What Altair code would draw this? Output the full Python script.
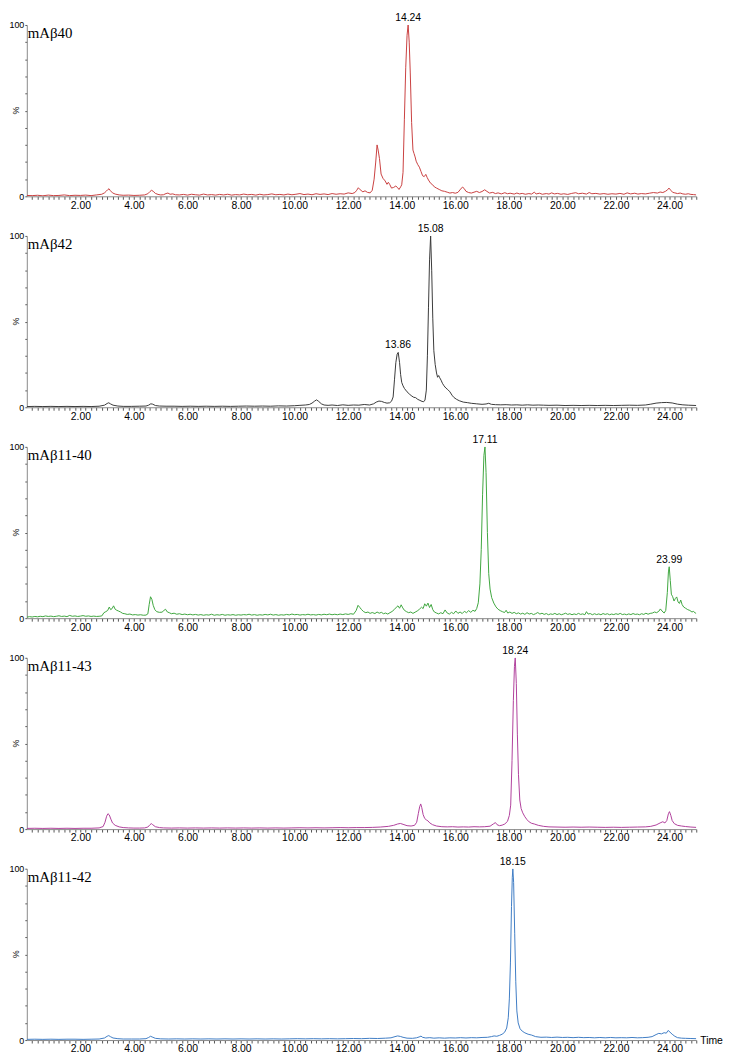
import altair as alt
import pandas as pd

# ---------------- data (time [min], relative intensity [%]) ----------------
names = ["mAβ40", "mAβ42", "mAβ11-40", "mAβ11-43", "mAβ11-42"]
colors = ["#c94040", "#3a3a3a", "#3fa63f", "#b0409c", "#3f7cc4"]

trace_40 = [
    (0.0, 0.5), (0.2, 0.4), (0.4, 0.6), (0.6, 0.3), (0.8, 0.7), (1.0, 0.4), (1.2, 0.5), (1.4, 0.8),
    (1.6, 0.4), (1.8, 0.6), (2.0, 0.5), (2.2, 0.7), (2.4, 0.4), (2.6, 0.8), (2.8, 1.2), (2.9, 2.0),
    (2.97, 3.0), (3.03, 4.0), (3.07, 4.4), (3.12, 3.3), (3.2, 2.0), (3.3, 1.3), (3.45, 0.8), (3.6, 0.6),
    (3.8, 0.7), (4.0, 0.5), (4.2, 0.6), (4.4, 0.8), (4.52, 1.5), (4.6, 2.8), (4.66, 3.5), (4.72, 2.9),
    (4.8, 1.7), (4.9, 1.1), (5.0, 0.8), (5.1, 0.9), (5.2, 1.6), (5.27, 1.9), (5.35, 1.2), (5.45, 1.4),
    (5.55, 0.9), (5.7, 0.8), (5.85, 1.1), (6.0, 0.7), (6.15, 1.2), (6.3, 0.9), (6.45, 0.7), (6.6, 1.3),
    (6.75, 0.8), (6.9, 1.0), (7.05, 0.7), (7.2, 1.1), (7.35, 0.8), (7.5, 1.2), (7.65, 0.7), (7.8, 1.0),
    (7.95, 0.8), (8.1, 1.3), (8.25, 0.9), (8.4, 1.1), (8.55, 0.7), (8.7, 1.2), (8.85, 0.8), (9.0, 1.0),
    (9.15, 1.4), (9.3, 0.9), (9.45, 1.1), (9.6, 0.8), (9.75, 1.3), (9.9, 0.9), (10.05, 1.2), (10.2, 1.6),
    (10.35, 1.0), (10.5, 1.3), (10.65, 0.9), (10.8, 1.5), (10.95, 1.1), (11.1, 1.4), (11.25, 1.0),
    (11.4, 1.6), (11.55, 1.2), (11.7, 1.5), (11.85, 1.3), (12.0, 2.0), (12.15, 1.6), (12.25, 2.2),
    (12.32, 3.5), (12.38, 5.0), (12.45, 3.8), (12.55, 2.6), (12.63, 3.2), (12.72, 2.3), (12.82, 2.0),
    (12.9, 3.5), (12.97, 10.0), (13.03, 20.0), (13.08, 30.0), (13.12, 27.0), (13.17, 22.0), (13.23, 13.0),
    (13.3, 10.5), (13.38, 9.0), (13.45, 7.0), (13.5, 8.2), (13.55, 7.0), (13.62, 4.8), (13.7, 5.2),
    (13.78, 6.0), (13.85, 5.0), (13.9, 4.0), (13.96, 5.5), (14.0, 6.7), (14.05, 14.0), (14.1, 45.0),
    (14.15, 75.0), (14.2, 94.0), (14.24, 100.0), (14.28, 90.0), (14.32, 72.0), (14.37, 43.0), (14.42, 27.0),
    (14.46, 25.0), (14.5, 23.0), (14.54, 20.5), (14.6, 18.5), (14.66, 17.0), (14.72, 14.5), (14.78, 12.0),
    (14.84, 11.5), (14.9, 12.8), (14.95, 11.0), (15.0, 9.5), (15.08, 7.6), (15.15, 6.8), (15.22, 5.5),
    (15.3, 4.8), (15.4, 4.0), (15.5, 3.2), (15.6, 2.9), (15.7, 2.4), (15.8, 1.9), (15.9, 2.2), (16.0, 1.8),
    (16.1, 2.3), (16.2, 4.2), (16.27, 5.4), (16.33, 4.6), (16.4, 2.9), (16.5, 2.2), (16.6, 1.9), (16.7, 2.4),
    (16.8, 2.9), (16.9, 2.2), (17.0, 2.8), (17.1, 3.8), (17.18, 2.9), (17.28, 1.9), (17.4, 2.3), (17.5, 1.6),
    (17.6, 2.0), (17.72, 1.4), (17.85, 2.1), (17.95, 1.5), (18.05, 1.8), (18.2, 1.3), (18.3, 1.9),
    (18.4, 1.4), (18.5, 1.7), (18.62, 1.2), (18.75, 1.6), (18.85, 1.3), (18.95, 2.4), (19.02, 1.4),
    (19.15, 1.8), (19.25, 1.2), (19.4, 1.6), (19.5, 1.3), (19.6, 2.0), (19.7, 1.4), (19.82, 1.7),
    (19.95, 1.2), (20.05, 1.5), (20.2, 1.1), (20.35, 1.7), (20.5, 2.1), (20.6, 1.5), (20.75, 1.8),
    (20.9, 1.3), (21.0, 2.2), (21.1, 1.5), (21.25, 1.7), (21.4, 1.3), (21.55, 1.6), (21.7, 1.2),
    (21.85, 1.5), (22.0, 1.3), (22.15, 1.7), (22.3, 1.2), (22.42, 2.0), (22.55, 1.4), (22.7, 1.8),
    (22.82, 1.3), (22.95, 1.6), (23.1, 1.4), (23.25, 1.8), (23.4, 2.2), (23.55, 1.9), (23.65, 2.5),
    (23.75, 2.2), (23.85, 2.9), (23.93, 3.8), (23.98, 4.8), (24.05, 3.5), (24.12, 2.3), (24.2, 2.0),
    (24.3, 1.6), (24.4, 1.9), (24.5, 1.4), (24.6, 1.2), (24.7, 1.5), (24.8, 1.1), (24.9, 1.0), (25.0, 0.8),
]

trace_42 = [
    (0.0, 0.4), (0.3, 0.5), (0.6, 0.4), (0.9, 0.5), (1.2, 0.4), (1.5, 0.5), (1.8, 0.4), (2.1, 0.5),
    (2.4, 0.4), (2.7, 0.6), (2.9, 1.2), (3.0, 2.2), (3.06, 2.6), (3.12, 2.0), (3.22, 1.2), (3.4, 0.7),
    (3.6, 0.5), (3.9, 0.5), (4.2, 0.6), (4.45, 0.7), (4.55, 1.2), (4.63, 2.0), (4.7, 1.8), (4.8, 1.0),
    (4.95, 0.7), (5.2, 0.6), (5.5, 0.6), (5.8, 0.5), (6.1, 0.6), (6.4, 0.5), (6.7, 0.6), (7.0, 0.5),
    (7.3, 0.6), (7.6, 0.5), (7.9, 0.6), (8.2, 0.7), (8.5, 0.6), (8.8, 0.7), (9.1, 0.6), (9.4, 0.8),
    (9.7, 0.7), (10.0, 0.9), (10.2, 1.1), (10.4, 1.3), (10.55, 1.6), (10.65, 2.4), (10.75, 3.6),
    (10.82, 4.3), (10.9, 3.4), (11.0, 2.0), (11.1, 1.3), (11.25, 1.1), (11.4, 1.3), (11.6, 1.0),
    (11.8, 1.4), (12.0, 1.1), (12.2, 1.3), (12.4, 1.2), (12.6, 1.6), (12.8, 1.3), (12.95, 2.0),
    (13.05, 3.0), (13.15, 3.6), (13.25, 3.4), (13.35, 2.8), (13.45, 2.4), (13.55, 2.6), (13.62, 3.5),
    (13.68, 6.0), (13.73, 16.0), (13.78, 26.0), (13.83, 31.0), (13.87, 32.0), (13.92, 26.0), (13.96, 19.0),
    (14.0, 14.5), (14.05, 12.5), (14.1, 11.0), (14.2, 9.0), (14.3, 7.5), (14.38, 6.5), (14.45, 5.8),
    (14.52, 5.6), (14.6, 4.6), (14.68, 4.0), (14.76, 3.4), (14.82, 3.2), (14.87, 4.2), (14.92, 10.0),
    (14.96, 30.0), (15.0, 58.0), (15.04, 86.0), (15.08, 100.0), (15.12, 80.0), (15.16, 52.0), (15.2, 33.0),
    (15.25, 25.0), (15.3, 20.0), (15.34, 17.5), (15.38, 18.5), (15.42, 17.2), (15.47, 15.8), (15.52, 14.0),
    (15.58, 12.5), (15.65, 11.2), (15.72, 10.3), (15.8, 9.0), (15.88, 7.0), (15.95, 5.7), (16.05, 4.6),
    (16.15, 3.8), (16.3, 3.0), (16.45, 2.7), (16.6, 2.3), (16.8, 2.0), (17.0, 1.7), (17.15, 1.9),
    (17.25, 2.3), (17.35, 1.7), (17.5, 1.5), (17.7, 1.4), (17.9, 1.5), (18.1, 1.3), (18.3, 1.4),
    (18.5, 1.2), (18.7, 1.4), (18.9, 1.2), (19.1, 1.3), (19.3, 1.2), (19.5, 1.1), (19.8, 1.2), (20.1, 1.0),
    (20.4, 1.1), (20.7, 1.0), (21.0, 1.1), (21.3, 1.0), (21.6, 1.1), (21.9, 1.0), (22.2, 1.1), (22.5, 1.2),
    (22.8, 1.1), (23.1, 1.3), (23.3, 1.8), (23.5, 2.4), (23.7, 2.7), (23.9, 2.8), (24.1, 2.5), (24.3, 1.8),
    (24.5, 1.4), (24.7, 1.2), (25.0, 1.0),
]

trace_11_40 = [
    (0.0, 0.6), (0.1, 0.9), (0.2, 0.7), (0.3, 1.0), (0.4, 0.8), (0.5, 1.1), (0.6, 0.9), (0.7, 1.3),
    (0.8, 1.0), (0.9, 1.2), (1.0, 0.9), (1.1, 1.1), (1.2, 1.4), (1.3, 1.0), (1.4, 1.2), (1.5, 0.9),
    (1.6, 1.6), (1.7, 1.1), (1.8, 1.3), (1.9, 1.0), (2.0, 1.2), (2.1, 1.5), (2.2, 1.1), (2.3, 1.3),
    (2.4, 1.0), (2.5, 1.2), (2.6, 1.0), (2.7, 1.1), (2.8, 1.3), (2.88, 3.2), (2.95, 3.8), (3.02, 4.5),
    (3.08, 6.5), (3.13, 5.0), (3.18, 5.5), (3.24, 7.2), (3.3, 5.2), (3.36, 4.6), (3.42, 4.2), (3.5, 3.6),
    (3.58, 2.8), (3.66, 2.6), (3.75, 2.2), (3.85, 2.4), (3.95, 1.9), (4.05, 2.1), (4.15, 1.8), (4.25, 2.0),
    (4.35, 1.7), (4.45, 1.8), (4.52, 2.5), (4.57, 8.0), (4.62, 12.5), (4.67, 11.0), (4.72, 7.5), (4.78, 5.0),
    (4.85, 3.8), (4.95, 3.4), (5.05, 3.5), (5.12, 4.5), (5.18, 5.2), (5.25, 3.6), (5.32, 3.2), (5.4, 2.6),
    (5.5, 2.9), (5.6, 2.3), (5.7, 2.6), (5.8, 2.1), (5.9, 2.4), (6.0, 2.0), (6.1, 2.3), (6.2, 1.9),
    (6.3, 2.2), (6.4, 1.8), (6.5, 2.1), (6.6, 1.7), (6.7, 2.0), (6.8, 1.8), (6.9, 2.3), (7.0, 1.7),
    (7.1, 2.0), (7.2, 1.8), (7.3, 2.2), (7.4, 1.7), (7.5, 2.0), (7.6, 1.8), (7.7, 2.1), (7.8, 1.7),
    (7.9, 2.0), (8.0, 1.8), (8.1, 2.1), (8.2, 1.9), (8.3, 2.3), (8.4, 1.8), (8.5, 2.1), (8.6, 1.7),
    (8.7, 2.0), (8.8, 1.8), (8.9, 2.2), (9.0, 1.9), (9.1, 2.3), (9.2, 1.8), (9.3, 2.1), (9.4, 1.7),
    (9.5, 2.0), (9.6, 1.8), (9.7, 2.2), (9.8, 1.9), (9.9, 2.4), (10.0, 2.0), (10.1, 2.2), (10.2, 1.8),
    (10.3, 2.1), (10.4, 1.9), (10.5, 2.3), (10.6, 1.9), (10.7, 2.1), (10.8, 1.8), (10.9, 2.2), (11.0, 1.9),
    (11.1, 2.3), (11.2, 2.0), (11.3, 2.4), (11.4, 2.0), (11.5, 2.3), (11.6, 2.0), (11.7, 2.4), (11.8, 2.1),
    (11.9, 2.5), (12.0, 2.2), (12.1, 2.6), (12.2, 2.3), (12.3, 4.5), (12.37, 7.5), (12.44, 6.2), (12.5, 5.0),
    (12.58, 3.8), (12.66, 3.2), (12.74, 3.6), (12.82, 2.8), (12.9, 3.3), (13.0, 2.7), (13.08, 3.6),
    (13.16, 2.9), (13.24, 3.4), (13.32, 2.6), (13.4, 3.0), (13.48, 2.4), (13.56, 3.2), (13.64, 3.9),
    (13.72, 5.0), (13.8, 6.4), (13.86, 7.2), (13.92, 5.8), (13.98, 7.8), (14.04, 6.0), (14.1, 4.6),
    (14.18, 3.8), (14.26, 3.2), (14.34, 3.6), (14.42, 2.8), (14.5, 3.5), (14.58, 4.2), (14.66, 5.2),
    (14.74, 6.4), (14.8, 5.6), (14.86, 8.4), (14.92, 7.0), (14.98, 8.8), (15.04, 6.2), (15.1, 8.0),
    (15.16, 5.0), (15.22, 3.6), (15.3, 3.0), (15.38, 2.5), (15.46, 3.2), (15.54, 2.6), (15.62, 4.8),
    (15.7, 3.0), (15.78, 2.4), (15.86, 3.4), (15.94, 2.6), (16.02, 4.2), (16.1, 2.8), (16.18, 3.6),
    (16.26, 2.7), (16.34, 4.0), (16.42, 3.2), (16.5, 4.4), (16.58, 3.4), (16.66, 4.6), (16.74, 4.0),
    (16.8, 5.6), (16.86, 9.0), (16.92, 20.0), (16.97, 40.0), (17.02, 72.0), (17.07, 95.0), (17.11, 100.0),
    (17.15, 85.0), (17.2, 50.0), (17.25, 26.0), (17.3, 17.0), (17.36, 12.0), (17.44, 8.8), (17.52, 6.6),
    (17.6, 5.2), (17.68, 4.4), (17.76, 3.8), (17.84, 3.3), (17.9, 4.6), (17.96, 3.0), (18.04, 3.6),
    (18.12, 2.8), (18.2, 3.4), (18.28, 2.6), (18.36, 3.1), (18.44, 2.4), (18.52, 2.9), (18.6, 2.2),
    (18.68, 3.2), (18.76, 2.4), (18.84, 2.8), (18.92, 2.1), (19.0, 2.6), (19.08, 3.3), (19.16, 2.4),
    (19.24, 2.9), (19.32, 2.2), (19.4, 2.7), (19.48, 2.0), (19.56, 2.5), (19.64, 2.2), (19.72, 2.8),
    (19.8, 2.1), (19.88, 2.6), (19.96, 2.0), (20.04, 2.4), (20.12, 2.9), (20.2, 2.2), (20.28, 2.6),
    (20.36, 2.0), (20.44, 2.5), (20.52, 2.1), (20.6, 2.8), (20.68, 2.2), (20.76, 2.5), (20.84, 2.0),
    (20.9, 3.8), (20.96, 2.4), (21.04, 2.7), (21.12, 2.0), (21.2, 2.6), (21.28, 2.1), (21.36, 2.5),
    (21.44, 2.0), (21.52, 2.7), (21.6, 2.2), (21.68, 2.6), (21.76, 2.0), (21.84, 2.4), (21.92, 2.1),
    (22.0, 2.6), (22.08, 2.2), (22.16, 2.8), (22.24, 2.1), (22.32, 2.4), (22.4, 2.0), (22.48, 2.5),
    (22.56, 2.1), (22.64, 2.7), (22.72, 2.2), (22.8, 2.4), (22.88, 2.0), (22.96, 2.6), (23.04, 2.2),
    (23.12, 2.9), (23.2, 2.3), (23.28, 2.8), (23.36, 3.0), (23.44, 3.6), (23.52, 3.2), (23.6, 4.0),
    (23.66, 5.4), (23.72, 4.2), (23.8, 3.0), (23.86, 4.5), (23.92, 15.0), (23.96, 27.0), (23.99, 30.0),
    (24.03, 22.0), (24.07, 14.0), (24.12, 12.5), (24.17, 10.0), (24.22, 11.5), (24.27, 12.4), (24.32, 9.5),
    (24.37, 8.6), (24.42, 10.6), (24.47, 8.0), (24.53, 6.5), (24.6, 5.8), (24.68, 5.0), (24.76, 4.5),
    (24.84, 3.6), (24.9, 4.0), (24.96, 3.0), (25.0, 2.8),
]

trace_11_43 = [
    (0.0, 0.4), (0.3, 0.5), (0.6, 0.4), (0.9, 0.5), (1.2, 0.4), (1.5, 0.5), (1.8, 0.4), (2.1, 0.5),
    (2.4, 0.5), (2.7, 0.7), (2.85, 1.5), (2.92, 4.0), (2.98, 7.5), (3.03, 9.0), (3.08, 8.3), (3.14, 5.8),
    (3.2, 3.6), (3.3, 2.2), (3.45, 1.3), (3.6, 0.9), (3.8, 0.7), (4.0, 0.6), (4.2, 0.6), (4.4, 0.7),
    (4.52, 1.2), (4.6, 2.6), (4.65, 3.2), (4.7, 2.6), (4.8, 1.4), (4.95, 0.9), (5.1, 0.7), (5.4, 0.6),
    (5.7, 0.7), (6.0, 0.6), (6.3, 0.7), (6.6, 0.6), (6.9, 0.7), (7.2, 0.6), (7.5, 0.7), (7.8, 0.6),
    (8.1, 0.7), (8.4, 0.6), (8.7, 0.7), (9.0, 0.6), (9.3, 0.7), (9.6, 0.6), (9.9, 0.7), (10.2, 0.8),
    (10.5, 0.7), (10.8, 0.8), (11.1, 0.7), (11.4, 0.8), (11.7, 0.9), (12.0, 0.8), (12.3, 0.9), (12.6, 0.9),
    (12.9, 1.0), (13.2, 1.2), (13.5, 1.6), (13.7, 2.2), (13.85, 3.0), (13.95, 3.3), (14.05, 2.8),
    (14.2, 2.0), (14.35, 1.8), (14.48, 2.2), (14.56, 4.0), (14.62, 9.0), (14.67, 13.0), (14.71, 14.7),
    (14.75, 12.5), (14.8, 8.5), (14.86, 6.2), (14.92, 5.4), (14.98, 4.8), (15.05, 3.6), (15.15, 2.6),
    (15.3, 1.8), (15.5, 1.4), (15.7, 1.3), (15.9, 1.4), (16.1, 1.2), (16.3, 1.3), (16.5, 1.2), (16.7, 1.4),
    (16.9, 1.3), (17.1, 1.4), (17.3, 1.7), (17.42, 3.0), (17.5, 3.8), (17.56, 2.6), (17.65, 2.0),
    (17.75, 2.3), (17.85, 3.0), (17.95, 4.5), (18.02, 8.0), (18.07, 14.0), (18.12, 40.0), (18.17, 75.0),
    (18.21, 95.0), (18.24, 100.0), (18.28, 85.0), (18.32, 55.0), (18.36, 32.0), (18.41, 17.0), (18.46, 12.0),
    (18.52, 9.5), (18.6, 7.2), (18.68, 5.5), (18.76, 4.2), (18.85, 3.4), (18.95, 3.0), (19.1, 2.2),
    (19.3, 1.6), (19.5, 1.3), (19.8, 1.2), (20.1, 1.1), (20.4, 1.2), (20.7, 1.1), (21.0, 1.2), (21.3, 1.1),
    (21.6, 1.0), (21.9, 1.1), (22.2, 1.0), (22.5, 1.1), (22.8, 1.2), (23.1, 1.3), (23.3, 1.6), (23.5, 2.4),
    (23.65, 3.6), (23.75, 4.3), (23.83, 3.6), (23.9, 5.0), (23.96, 9.0), (24.0, 10.2), (24.05, 8.0),
    (24.1, 5.0), (24.18, 3.2), (24.3, 2.2), (24.45, 1.8), (24.6, 1.5), (24.8, 1.2), (25.0, 1.0),
]

trace_11_42 = [
    (0.0, 0.4), (0.3, 0.5), (0.6, 0.4), (0.9, 0.5), (1.2, 0.4), (1.5, 0.5), (1.8, 0.5), (2.1, 0.4),
    (2.4, 0.5), (2.7, 0.6), (2.9, 1.2), (3.0, 2.2), (3.06, 2.6), (3.12, 2.0), (3.22, 1.2), (3.4, 0.8),
    (3.6, 0.6), (3.9, 0.6), (4.2, 0.6), (4.45, 0.8), (4.55, 1.5), (4.62, 2.2), (4.68, 1.8), (4.8, 1.0),
    (5.0, 0.7), (5.3, 0.6), (5.6, 0.7), (5.9, 0.6), (6.2, 0.7), (6.5, 0.6), (6.8, 0.7), (7.1, 0.6),
    (7.4, 0.7), (7.7, 0.6), (8.0, 0.7), (8.3, 0.6), (8.6, 0.7), (8.9, 0.6), (9.2, 0.7), (9.5, 0.6),
    (9.8, 0.7), (10.1, 0.8), (10.4, 0.7), (10.7, 0.8), (11.0, 0.7), (11.3, 0.8), (11.6, 0.7), (11.9, 0.8),
    (12.2, 0.9), (12.5, 0.8), (12.8, 1.0), (13.1, 0.9), (13.4, 1.1), (13.6, 1.3), (13.75, 2.0), (13.85, 2.4),
    (13.95, 2.1), (14.05, 1.6), (14.2, 1.1), (14.4, 1.0), (14.55, 1.3), (14.65, 1.8), (14.72, 2.3),
    (14.78, 1.6), (14.9, 1.2), (15.05, 1.4), (15.2, 1.1), (15.4, 1.3), (15.6, 1.1), (15.8, 1.3), (16.0, 1.2),
    (16.2, 1.4), (16.4, 1.2), (16.6, 1.4), (16.8, 1.3), (17.0, 1.5), (17.2, 1.6), (17.35, 2.0), (17.45, 2.4),
    (17.55, 2.2), (17.65, 2.7), (17.75, 3.4), (17.84, 4.5), (17.92, 7.0), (17.98, 13.0), (18.02, 24.0),
    (18.06, 45.0), (18.1, 78.0), (18.13, 95.0), (18.15, 100.0), (18.18, 92.0), (18.22, 62.0), (18.26, 34.0),
    (18.3, 17.0), (18.35, 10.0), (18.42, 6.6), (18.5, 5.2), (18.6, 4.2), (18.72, 3.4), (18.85, 2.9),
    (19.0, 2.0), (19.2, 1.6), (19.4, 1.7), (19.6, 1.5), (19.8, 1.7), (20.0, 1.5), (20.2, 1.6), (20.4, 1.4),
    (20.6, 1.6), (20.8, 1.4), (21.0, 1.5), (21.2, 1.3), (21.4, 1.5), (21.6, 1.3), (21.8, 1.5), (22.0, 1.3),
    (22.2, 1.4), (22.4, 1.3), (22.6, 1.5), (22.8, 1.3), (23.0, 1.4), (23.2, 1.6), (23.35, 2.0), (23.5, 3.2),
    (23.6, 3.9), (23.7, 3.6), (23.8, 4.3), (23.88, 4.0), (23.95, 5.6), (24.02, 4.6), (24.1, 3.4),
    (24.2, 2.2), (24.3, 1.4), (24.45, 1.1), (24.6, 1.0), (24.8, 0.9), (25.0, 0.8),
]

traces = [trace_40, trace_42, trace_11_40, trace_11_43, trace_11_42]

# labelled peaks per panel: (time, height, label)
peaks = [
    [(14.24, 100.0, "14.24")],
    [(13.86, 32.0, "13.86"), (15.08, 100.0, "15.08")],
    [(17.11, 100.0, "17.11"), (23.99, 30.0, "23.99")],
    [(18.24, 100.0, "18.24")],
    [(18.15, 100.0, "18.15")],
]

x_tick_values = [round(0.2 * i, 1) for i in range(1, 126)]
x_label_values = [2, 4, 6, 8, 10, 12, 14, 16, 18, 20, 22, 24]
y_tick_values = [0, 10, 20, 30, 40, 50, 60, 70, 80, 90, 100]

W = 676
H = 173
SANS = "Liberation Sans"

x_label_test = " || ".join(f"abs(datum.value - {v}) < 0.01" for v in x_label_values)


def x_enc():
    return alt.X(
        "t:Q",
        title=None,
        scale=alt.Scale(domain=[0, 25], nice=False, zero=False),
        axis=alt.Axis(
            values=x_tick_values,
            labelExpr=f"({x_label_test}) ? format(datum.value, '.2f') : ''",
            tickSize=3,
            labelPadding=1,
            labelFlush=False,
            labelOverlap=False,
            grid=False,
            labelFontSize=10.5,
        ),
    )


def y_enc():
    return alt.Y(
        "v:Q",
        title=None,
        scale=alt.Scale(domain=[0, 100], nice=False, zero=True),
        axis=alt.Axis(
            values=y_tick_values,
            labelExpr="(datum.value == 0 || datum.value == 100) ? format(datum.value, 'd') : ''",
            tickSize=2,
            labelPadding=1,
            labelFlush=False,
            labelOverlap=False,
            grid=False,
            labelFontSize=9,
        ),
    )


def panel(idx):
    df = pd.DataFrame(traces[idx], columns=["t", "v"])
    pk = pd.DataFrame(peaks[idx], columns=["t", "v", "label"])
    line = alt.Chart(df).mark_line(color=colors[idx], strokeWidth=1, clip=True).encode(x=x_enc(), y=y_enc())
    labels = alt.Chart(pk).mark_text(
        font=SANS, fontSize=10.5, baseline="bottom", dy=-2, color="#000"
    ).encode(x=x_enc(), y=y_enc(), text="label:N")
    one = pd.DataFrame({"k": [0]})
    title = alt.Chart(one).mark_text(
        text=names[idx], font="Liberation Serif", fontSize=15, align="left",
        baseline="alphabetic", color="#000"
    ).encode(x=alt.value(1), y=alt.value(13))
    pct = alt.Chart(one).mark_text(
        text="%", font=SANS, fontSize=9, angle=270, color="#111"
    ).encode(x=alt.value(-11), y=alt.value(H / 2))
    layers = [line, labels, title, pct]
    if idx == len(traces) - 1:
        time_lbl = alt.Chart(one).mark_text(
            text="Time", font=SANS, fontSize=10.5, align="left", baseline="middle", color="#000"
        ).encode(x=alt.value(W + 4), y=alt.value(H + 1))
        layers.append(time_lbl)
    return alt.layer(*layers).properties(width=W, height=H)


chart = (
    alt.vconcat(*[panel(i) for i in range(len(traces))], spacing=40, bounds="flush")
    .properties(padding={"left": 0, "right": 0, "top": 0, "bottom": 0})
    .configure_view(stroke=None)
    .configure_axis(
        labelFont=SANS,
        labelColor="#000",
        domainColor="#8a8a8a",
        tickColor="#555",
        domainWidth=1,
        tickWidth=1,
        labelOverlap=False,
    )
)

chart.save("out.html", embed_options={"renderer": "svg", "actions": False})
